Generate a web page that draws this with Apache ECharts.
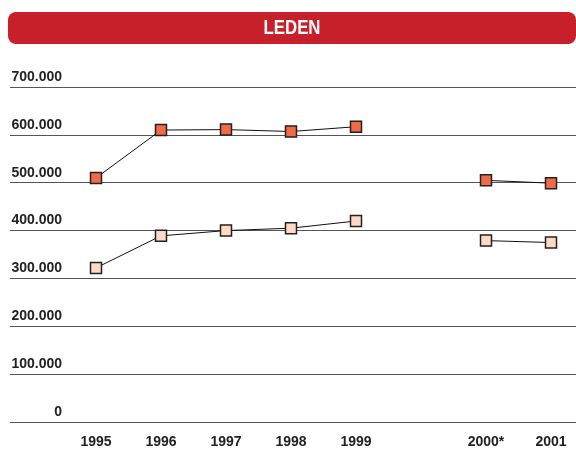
<!DOCTYPE html>
<html>
<head>
<meta charset="utf-8">
<script src="https://cdn.jsdelivr.net/npm/echarts@6/dist/echarts.min.js"></script>
<style>
html,body{margin:0;padding:0;background:#fff;}
#chart{width:576px;height:450px;}
</style>
</head>
<body>
<div id="chart"></div>
<script>
// slots along the x axis; '' is an empty gap slot
var categories = ['1995', '1996', '1997', '1998', '1999', '', '2000*', '2001'];
var seriesDark = [510000, 610000, 611000, 607000, 617000, null, 505000, 499000];
var seriesLight = [322000, 389000, 400000, 405000, 420000, null, 379000, 375000];
var yTicks = [0, 100000, 200000, 300000, 400000, 500000, 600000, 700000];
var title = 'LEDEN';

var FONT = "'Liberation Sans', Arial, sans-serif";

function pairs(vals) {
  return vals.map(function (v, i) { return [i, v]; });
}
var labelIdx = [];
categories.forEach(function (c, i) { if (c !== '') labelIdx.push(i); });

function fmt(v) {
  if (v === 0) return '0';
  var s = String(Math.round(v));
  return s.replace(/\B(?=(\d{3})+(?!\d))/g, '.');
}

var chart = echarts.init(document.getElementById('chart'), null, {renderer: 'canvas'});
var gridLeft = 10, gridRight = 0, gridTop = 87, gridBottom = 28;
var slot = 65, firstX = 96;
var plotW = 576 - gridLeft - gridRight;
var xMin = -(firstX - gridLeft) / slot;
var xMax = xMin + plotW / slot;

chart.setOption({
  animation: false,
  graphic: [
    {
      type: 'rect',
      shape: {x: 8, y: 12, width: 568, height: 32, r: 8},
      style: {fill: '#C8202A'}
    },
    {
      type: 'text',
      x: 292, y: 28.5,
      scaleX: 0.8,
      style: {
        text: title, fill: '#fff', font: 'bold 21px ' + FONT,
        align: 'center', verticalAlign: 'middle'
      }
    }
  ],
  grid: {left: gridLeft, right: gridRight, top: gridTop, bottom: gridBottom, containLabel: false},
  xAxis: {
    type: 'value',
    min: xMin, max: xMax,
    axisLine: {show: false},
    axisTick: {show: false},
    splitLine: {show: false},
    axisLabel: {
      customValues: labelIdx,
      formatter: function (v) { return categories[Math.round(v)] || ''; },
      margin: 13,
      color: '#222',
      fontFamily: FONT,
      fontWeight: 'bold',
      fontSize: 14
    }
  },
  yAxis: {
    type: 'value',
    min: yTicks[0], max: yTicks[yTicks.length - 1],
    interval: yTicks[1] - yTicks[0],
    axisLine: {show: false},
    axisTick: {show: false},
    splitLine: {show: true, lineStyle: {color: '#555', width: 1}},
    axisLabel: {
      inside: true,
      align: 'right',
      verticalAlign: 'bottom',
      margin: 52,
      padding: [0, 0, 3, 0],
      formatter: fmt,
      color: '#222',
      fontFamily: FONT,
      fontWeight: 'bold',
      fontSize: 14
    }
  },
  series: [
    {
      type: 'line',
      data: pairs(seriesLight),
      connectNulls: false,
      symbol: 'rect',
      symbolSize: 11,
      lineStyle: {color: '#111', width: 1},
      itemStyle: {color: '#FDD9C6', borderColor: '#222', borderWidth: 1.5},
      z: 3
    },
    {
      type: 'line',
      data: pairs(seriesDark),
      connectNulls: false,
      symbol: 'rect',
      symbolSize: 11,
      lineStyle: {color: '#111', width: 1},
      itemStyle: {color: '#F26A48', borderColor: '#222', borderWidth: 1.5},
      z: 3
    }
  ]
});
</script>
</body>
</html>
